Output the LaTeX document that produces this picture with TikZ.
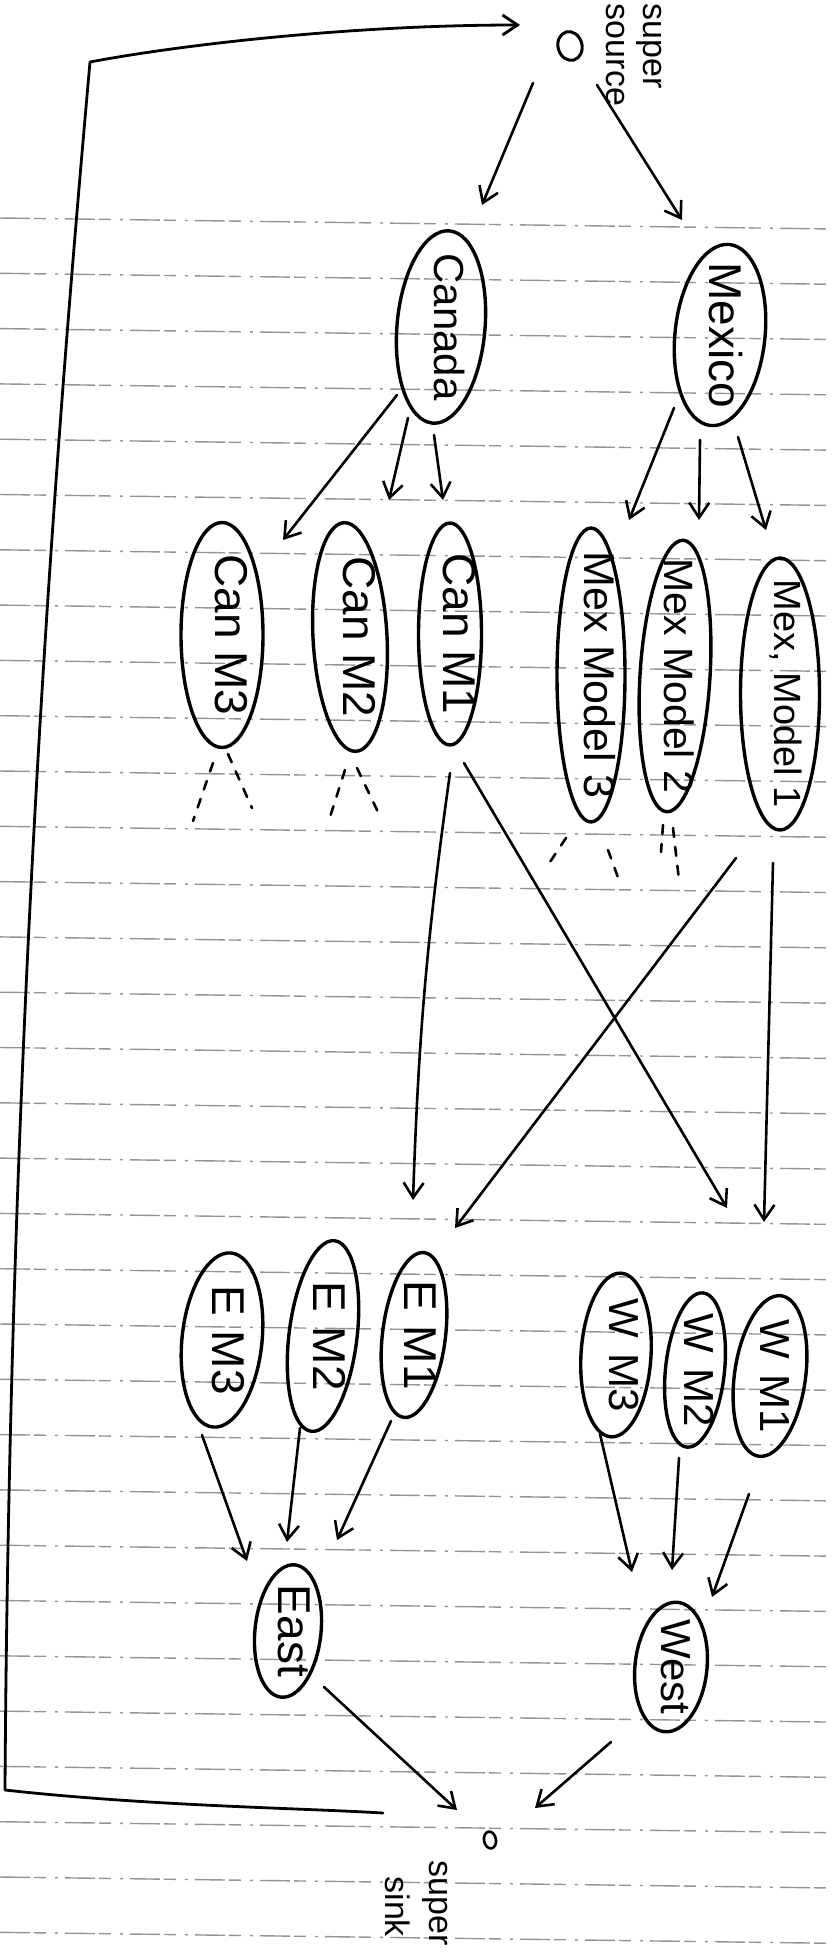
\documentclass[tikz,border=0pt]{standalone}
\usepackage{fontspec}
\setmainfont{Liberation Sans}
\usetikzlibrary{shapes.geometric,arrows.meta}
\newcommand{\lab}[2]{{\fontsize{#1}{#1}\selectfont\makebox[0pt]{\raisebox{-.15em}[0pt][0pt]{#2}}}}
\newcommand{\wlab}[2]{{\fontsize{#1}{#1}\selectfont\spaceskip=15pt\makebox[0pt]{\raisebox{-.15em}[0pt][0pt]{#2}}}}
\begin{document}
\begin{tikzpicture}[x=1pt,y=1pt,
  ell/.style={draw, ellipse, line width=3.4pt, inner sep=0pt, outer sep=0pt},
  txt/.style={rotate=-90, inner sep=0pt, outer sep=0pt},
  arr/.style={line width=2.6pt, line cap=round, -{Straight Barb[length=15pt,width=20pt]}},
  fan/.style={line width=2.6pt, line cap=round, dash pattern=on 9pt off 10pt},
  ruleline/.style={black!42, line width=1.4pt, dash pattern=on 30pt off 4pt on 12pt off 9pt on 3pt off 7pt},
  loopline/.style={line width=2.8pt, line join=round, line cap=round, -{Straight Barb[length=15pt,width=20pt]}},
  lbl/.style={rotate=-90, align=left, inner sep=0pt}]
\useasboundingbox (0,0) rectangle (833,-1956);
% ruled paper lines
\foreach \k in {0,...,31} {\draw[ruleline] (0,{-218-55.3*\k}) -- (833,{-229-55.3*\k});}

% nodes (outlines)
\node[ell, rotate=-75, minimum width=29pt, minimum height=24pt, line width=3pt] (src) at (570,-46) {};
\node[ell, rotate=-95, minimum width=193pt, minimum height=88pt] (canada) at (441,-327) {};
\node[ell, rotate=-96, minimum width=182pt, minimum height=90pt] (mexico) at (720,-335) {};
\node[ell, rotate=-90, minimum width=225pt, minimum height=82pt] (canM3) at (222,-635) {};
\node[ell, rotate=-87, minimum width=229pt, minimum height=74pt] (canM2) at (350,-637) {};
\node[ell, rotate=-90, minimum width=222pt, minimum height=63pt] (canM1) at (450,-634) {};
\node[ell, rotate=-90, minimum width=294pt, minimum height=68pt] (mexM3) at (591,-675) {};
\node[ell, rotate=-93.5, minimum width=272pt, minimum height=70pt] (mexM2) at (675,-676) {};
\node[ell, rotate=-90, minimum width=272pt, minimum height=79pt] (mexM1) at (780,-694) {};
\node[ell, rotate=-96, minimum width=175pt, minimum height=80pt] (eM3) at (222,-1340) {};
\node[ell, rotate=-97, minimum width=192pt, minimum height=68pt] (eM2) at (323,-1336) {};
\node[ell, rotate=-97, minimum width=166pt, minimum height=63pt] (eM1) at (414,-1335) {};
\node[ell, rotate=-93.5, minimum width=164pt, minimum height=70pt] (wM3) at (616,-1355) {};
\node[ell, rotate=-96, minimum width=155pt, minimum height=59pt] (wM2) at (695,-1370) {};
\node[ell, rotate=-98, minimum width=162pt, minimum height=71pt] (wM1) at (770,-1376) {};
\node[ell, rotate=-96, minimum width=133pt, minimum height=66pt] (east) at (288,-1631) {};
\node[ell, rotate=-96, minimum width=130pt, minimum height=72pt] (west) at (671,-1667) {};
\node[ell, rotate=-80, minimum width=17pt, minimum height=12pt, line width=2.6pt] (snk) at (490,-1840) {};

% texts
\node[lbl, font=\fontsize{34}{37}\selectfont] (srclbl) at (634,-55) {super\\source};
\node[txt] (canadaT) at (canada) {\lab{42}{Canada}};
\node[txt] (mexicoT) at ([xshift=-4pt]mexico.center) {\lab{46}{Mexico}};
\node[txt] (canM3T) at (canM3) {\lab{46}{Can M3}};
\node[txt] (canM2T) at (canM2) {\lab{46}{Can M2}};
\node[txt] (canM1T) at (canM1) {\lab{46}{Can M1}};
\node[txt] (mexM3T) at (mexM3) {\lab{43}{Mex Model 3}};
\node[txt] (mexM2T) at ([xshift=-4pt]mexM2.center) {\lab{41}{Mex Model 2}};
\node[txt] (mexM1T) at (mexM1) {\lab{38}{Mex, Model 1}};
\node[txt] (eM3T) at ([xshift=-3pt]eM3.center) {\wlab{46}{E M3}};
\node[txt] (eM2T) at ([xshift=-3pt]eM2.center) {\wlab{46}{E M2}};
\node[txt] (eM1T) at ([xshift=-3pt]eM1.center) {\wlab{46}{E M1}};
\node[txt] (wM3T) at (wM3) {\wlab{42}{W M3}};
\node[txt] (wM2T) at ([xshift=-4pt]wM2.center) {\wlab{42}{W M2}};
\node[txt] (wM1T) at ([xshift=-3pt]wM1.center) {\wlab{42}{W M1}};
\node[txt] (eastT) at ([xshift=-3pt]east.center) {\lab{46}{East}};
\node[txt] (westT) at ([xshift=-3pt]west.center) {\lab{42}{West}};
\node[lbl, font=\fontsize{34}{44}\selectfont] (snklbl) at (416,-1903) {super\\\hspace*{16pt}sink};

% connectors
\draw[arr] ([shift={(-37,-37)}]src.center) -- ([shift={(41,122)}]canada.center);
\draw[arr] ([shift={(27,-39)}]src.center) -- ([shift={(-38,115)}]mexico.center);
\draw[arr] ([shift={(-44,-68)}]canada.center) -- ([shift={(61,95)}]canM3.center);
\draw[arr] ([shift={(-33,-91)}]canada.center) -- ([shift={(39,137)}]canM2.center);
\draw[arr] ([shift={(-7,-108)}]canada.center) -- ([shift={(-7,134)}]canM1.center);
\draw[arr] ([shift={(-46,-73)}]mexico.center) -- ([shift={(38,155)}]mexM3.center);
\draw[arr] ([shift={(-20,-105)}]mexico.center) -- ([shift={(24,156)}]mexM2.center);
\draw[arr] ([shift={(18,-102)}]mexico.center) -- ([shift={(-14,164)}]mexM1.center);
\draw[arr] ([shift={(0,-139)}]canM1.center) to[bend right=3] ([shift={(-1,135)}]eM1.center);
\draw[arr] ([shift={(14,-129)}]canM1.center) -- ([shift={(111,147)}]wM3.center);
\draw[arr] ([shift={(-44,-164)}]mexM1.center) -- ([shift={(41,107)}]eM1.center);
\draw[arr] ([shift={(-7,-169)}]mexM1.center) -- ([shift={(-6,154)}]wM1.center);
\draw[arr] ([shift={(-20,-95)}]eM3.center) -- ([shift={(-41,70)}]east.center);
\draw[arr] ([shift={(-23,-92)}]eM2.center) -- ([shift={(-1,89)}]east.center);
\draw[arr] ([shift={(-23,-86)}]eM1.center) -- ([shift={(49,91)}]east.center);
\draw[arr] ([shift={(-16,-79)}]wM3.center) -- ([shift={(-39,95)}]west.center);
\draw[arr] ([shift={(-16,-88)}]wM2.center) -- ([shift={(1,97)}]west.center);
\draw[arr] ([shift={(-21,-118)}]wM1.center) -- ([shift={(41,70)}]west.center);
\draw[arr] ([shift={(36,-56)}]east.center) -- ([shift={(-33,30)}]snk.center);
\draw[arr] ([shift={(-60,-75)}]west.center) -- ([shift={(45,32)}]snk.center);

% continuation strokes
\draw[fan] ([shift={(-9,-128)}]canM3.center) -- ++(-20,-58);
\draw[fan] ([shift={(6,-119)}]canM3.center) -- ++(24,-54);
\draw[fan] ([shift={(-5,-133)}]canM2.center) -- ++(-15,-47);
\draw[fan] ([shift={(7,-131)}]canM2.center) -- ++(21,-44);
\draw[fan] ([shift={(-25,-163)}]mexM3.center) -- ++(-16,-24);
\draw[fan] ([shift={(17,-175)}]mexM3.center) -- ++(12,-33);
\draw[fan] ([shift={(-12,-149)}]mexM2.center) -- ++(-2,-27);
\draw[fan] ([shift={(-2,-152)}]mexM2.center) -- ++(6,-52);

% return loop from super sink to super source
\coordinate (lb) at (5,-1790);
\coordinate (lt) at (90,-62);
\draw[loopline] ([shift={(-107,27)}]snk.center) .. controls (300,-1808) and (150,-1806) .. (lb)
  .. controls (10,-1000) and (60,-400) .. (lt)
  .. controls (180,-45) and (350,-25) .. ([shift={(-50,21)}]src.center);
\end{tikzpicture}
\end{document}
